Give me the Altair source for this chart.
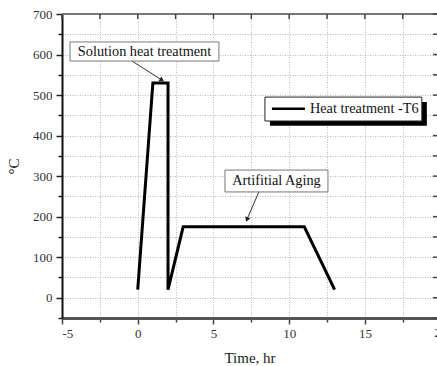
import altair as alt
import pandas as pd

# T6 heat-treatment cycle: time (hr) vs temperature (°C)
time_hr = [0, 1, 2, 2, 3, 11, 13]
temp_c = [20, 530, 530, 20, 175, 175, 20]

# axis tick positions (major + minor)
x_ticks = [-5, -2.5, 0, 2.5, 5, 7.5, 10, 12.5, 15, 17.5, 20]
y_ticks = [-50, 0, 50, 100, 150, 200, 250, 300, 350, 400, 450, 500, 550, 600, 650, 700]

# annotation callouts: box extents, label anchor, arrow tail/head
callout_text = ["Solution heat treatment", "Artifitial Aging"]
box_x0 = [-4.47, 5.76]
box_x1 = [5.36, 12.56]
box_y0 = [584, 261]
box_y1 = [631, 315]
label_x = [0.45, 9.16]
label_y = [607, 288]
arrow_x0 = [-0.38, 8.0]
arrow_y0 = [584, 261]
arrow_x1 = [1.6, 7.21]
arrow_y1 = [537, 193]
arrow_angle = [122, 203]

# legend box
legend_label = ["Heat treatment -T6"]
legend_x0 = [8.40]
legend_x1 = [18.76]
legend_y0 = [436]
legend_y1 = [495]
shadow_x0 = [8.73]
shadow_x1 = [19.09]
shadow_y0 = [424]
shadow_y1 = [483]
swatch_x0 = [8.86]
swatch_x1 = [11.04]
swatch_y = [466]
legend_text_x = [11.37]

W, H = 375, 304
FONT = "Liberation Serif"

xscale = alt.Scale(domain=[-5, 19.76], nice=False, zero=False)
yscale = alt.Scale(domain=[-50, 700], nice=False, zero=False)

curve = pd.DataFrame({"t": time_hr, "T": temp_c, "step": list(range(len(time_hr)))})
xt = pd.DataFrame({"v": x_ticks})
yt = pd.DataFrame({"v": y_ticks})
callouts = pd.DataFrame({
    "text": callout_text, "x0": box_x0, "x1": box_x1, "y0": box_y0, "y1": box_y1,
    "lx": label_x, "ly": label_y, "ax0": arrow_x0, "ay0": arrow_y0,
    "ax1": arrow_x1, "ay1": arrow_y1, "ang": arrow_angle,
})
legend = pd.DataFrame({
    "text": legend_label, "x0": legend_x0, "x1": legend_x1, "y0": legend_y0, "y1": legend_y1,
    "sx0": shadow_x0, "sx1": shadow_x1, "sy0": shadow_y0, "sy1": shadow_y1,
    "wx0": swatch_x0, "wx1": swatch_x1, "wy": swatch_y, "tx": legend_text_x,
})

x_axis = alt.Axis(
    values=x_ticks,
    labelExpr="datum.value % 5 === 0 ? '' + datum.value : ''",
    title="Time, hr",
    grid=True, gridColor="#b8b8b8", gridDash=[1, 1.5], gridWidth=1,
    domainColor="#555555", domainWidth=3,
    tickColor="#444444", tickWidth=1.5,
    tickSize={"condition": {"test": "datum.value % 5 === 0", "value": 6}, "value": 4},
    labelFont=FONT, labelFontSize=13, labelColor="#333333", labelPadding=3,
    titleFont=FONT, titleFontSize=15, titleFontWeight="normal", titleColor="#222222",
    titlePadding=10,
)
y_axis = alt.Axis(
    values=y_ticks,
    labelExpr="datum.value % 100 === 0 ? '' + datum.value : ''",
    title="°C",
    grid=True, gridColor="#b8b8b8", gridDash=[1, 1.5], gridWidth=1,
    domainColor="#111111", domainWidth=2,
    tickColor="#222222", tickWidth=1.5,
    tickSize={"condition": {"test": "datum.value % 100 === 0", "value": 6}, "value": 4},
    labelFont=FONT, labelFontSize=13, labelColor="#333333", labelPadding=4,
    titleFont=FONT, titleFontSize=15, titleFontWeight="normal", titleColor="#222222",
    titlePadding=11,
)


def X(field):
    return alt.X(field, type="quantitative", scale=xscale, axis=x_axis)


def Y(field):
    return alt.Y(field, type="quantitative", scale=yscale, axis=y_axis)


line = alt.Chart(curve).mark_line(color="black", strokeWidth=3, strokeJoin="miter").encode(
    x=X("t"), y=Y("T"), order="step:Q",
)

# frame: top border, inward ticks on top and right
top_border = alt.Chart(xt).mark_rule(color="#777777", strokeWidth=2).encode(
    x=alt.value(0), x2=alt.value(W), y=alt.value(0)
).transform_filter("datum.v === -5")
top_ticks = alt.Chart(xt).mark_rule(color="#444444", strokeWidth=1.5).encode(
    x=X("v"), y=alt.value(0), y2=alt.value(5)
)
right_ticks = alt.Chart(yt).mark_rule(color="#444444", strokeWidth=1.5).encode(
    y=Y("v"), x=alt.value(W - 4), x2=alt.value(W)
)
# the "20" tick label sits on the right edge of the frame
edge_label = alt.Chart(xt).mark_text(
    font=FONT, fontSize=13, color="#333333", baseline="top", clip=False
).encode(
    x=X("v"), y=alt.value(H + 9), text=alt.Text("v:Q", format="d")
).transform_filter("datum.v === 20")

cbase = alt.Chart(callouts)
boxes = cbase.mark_rect(fill="white", stroke="#777777", strokeWidth=1).encode(
    x=X("x0"), x2="x1:Q", y=Y("y0"), y2="y1:Q",
)
box_text = cbase.mark_text(font=FONT, fontSize=14.3, color="#111111", align="center", baseline="middle").encode(
    x=X("lx"), y=Y("ly"), text="text:N",
)
arrows = cbase.mark_rule(color="#333333", strokeWidth=1).encode(
    x=X("ax0"), x2="ax1:Q", y=Y("ay0"), y2="ay1:Q",
)
heads = cbase.mark_point(shape="triangle-up", filled=True, color="#222222", size=30, opacity=1).encode(
    x=X("ax1"), y=Y("ay1"), angle=alt.Angle("ang:Q", scale=None),
)

lbase = alt.Chart(legend)
shadow = lbase.mark_rect(fill="black").encode(
    x=X("sx0"), x2="sx1:Q", y=Y("sy0"), y2="sy1:Q",
)
lbox = lbase.mark_rect(fill="white", stroke="#222222", strokeWidth=1).encode(
    x=X("x0"), x2="x1:Q", y=Y("y0"), y2="y1:Q",
)
swatch = lbase.mark_rule(color="black", strokeWidth=2.5).encode(
    x=X("wx0"), x2="wx1:Q", y=Y("wy"),
)
ltext = lbase.mark_text(font=FONT, fontSize=14.3, color="#111111", align="left", baseline="middle").encode(
    x=X("tx"), y=Y("wy"), text="text:N",
)

chart = alt.layer(
    line, top_border, top_ticks, right_ticks, edge_label,
    arrows, boxes, box_text, heads,
    shadow, lbox, swatch, ltext,
).properties(
    width=W, height=H,
    autosize=alt.AutoSizeParams(type="none"),
    padding={"left": 62, "top": 14, "right": 0, "bottom": 48},
    background="white",
).configure_view(stroke=None)

chart.save("out.html", embed_options={"renderer": "svg", "actions": False})
